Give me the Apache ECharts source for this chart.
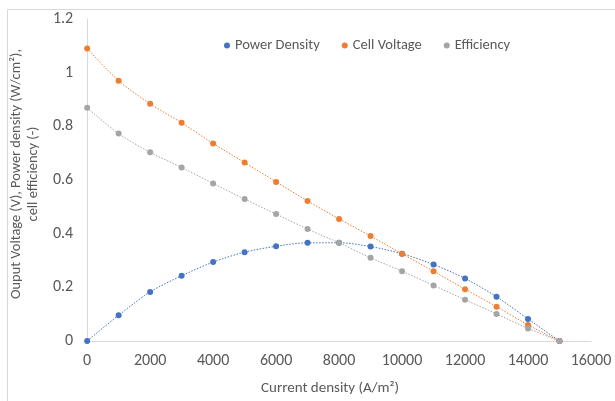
<!DOCTYPE html>
<html><head><meta charset="utf-8">
<script src="https://cdn.jsdelivr.net/npm/echarts@6/dist/echarts.min.js"></script>
<style>html,body{margin:0;padding:0;background:#fff}#c{width:615px;height:401px}</style>
</head><body><div id="c"></div>
<script>
const currentDensity = [0,1000,2000,3000,4000,5000,6000,7000,8000,9000,10000,11000,12000,13000,14000,15000];
const powerDensity = [0,0.096,0.183,0.243,0.294,0.331,0.353,0.366,0.366,0.352,0.325,0.285,0.233,0.165,0.082,0];
const cellVoltage = [1.090,0.970,0.884,0.813,0.736,0.665,0.593,0.522,0.455,0.391,0.325,0.260,0.193,0.128,0.060,0];
const efficiency = [0.869,0.773,0.703,0.647,0.587,0.529,0.473,0.417,0.366,0.310,0.260,0.207,0.154,0.101,0.047,0];
const seriesNames = ['Power Density','Cell Voltage','Efficiency'];
const colors = ['#4472C4','#ED7D31','#A5A5A5'];
const xTicks = {min:0,max:16000,interval:2000};
const yTicks = {min:0,max:1.2,interval:0.2};

const font = 'Calibri, Carlito, "Open Sans", sans-serif';
const chart = echarts.init(document.getElementById('c'));
const pair = arr => currentDensity.map((x,i)=>[x,arr[i]]);
const allData = [powerDensity, cellVoltage, efficiency];
chart.setOption({
  animation:false,
  graphic:[{type:'rect',shape:{x:7.5,y:9.5,width:700,height:500},style:{fill:'none',stroke:'#d9d9d9',lineWidth:1},z:-1}],
  legend:{top:33,left:219,itemWidth:6,itemHeight:6,itemGap:22,icon:'circle',
    textStyle:{color:'#595959',fontSize:14.5,fontFamily:font},data:seriesNames},
  grid:{left:86,right:24,top:19,bottom:57},
  xAxis:{type:'value',min:xTicks.min,max:xTicks.max,interval:xTicks.interval,
    name:'Current density (A/m²)',nameLocation:'middle',nameGap:40,
    nameTextStyle:{color:'#595959',fontSize:15,fontFamily:font,padding:[0,18,0,0]},
    axisLine:{show:true,lineStyle:{color:'#d9d9d9'}},axisTick:{show:false},splitLine:{show:false},
    axisLabel:{color:'#595959',fontSize:16,fontFamily:font,margin:12,formatter:v=>String(v)}},
  yAxis:{type:'value',min:yTicks.min,max:yTicks.max,interval:yTicks.interval,
    name:'Ouput Voltage (V), Power density (W/cm²),\ncell efficiency (-)',nameLocation:'middle',nameGap:44,nameRotate:90,
    nameTextStyle:{color:'#595959',fontSize:14.4,fontFamily:font,lineHeight:17,padding:[0,0,0,12]},
    axisLine:{show:true,lineStyle:{color:'#d9d9d9'}},axisTick:{show:false},splitLine:{show:false},
    axisLabel:{color:'#595959',fontSize:16,fontFamily:font,margin:14}},
  series: seriesNames.map((n,i)=>({name:n,type:'line',data:pair(allData[i]),smooth:0.3,
    symbol:'circle',symbolSize:6,itemStyle:{color:colors[i]},
    lineStyle:{color:colors[i],width:1,type:[1.5,1.5]}}))
});
</script></body></html>
